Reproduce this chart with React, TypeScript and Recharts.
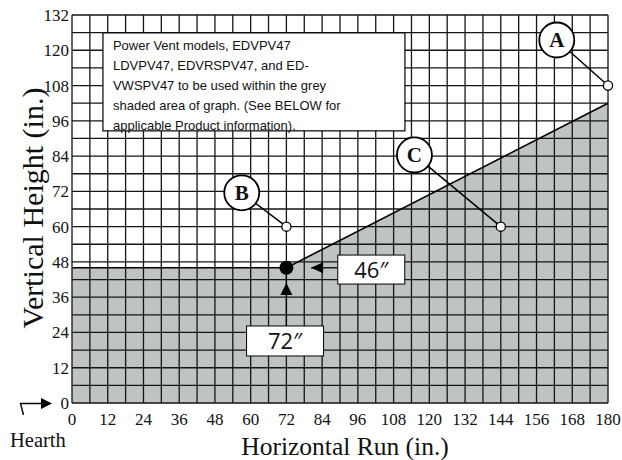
import React from "react";
import {
  ComposedChart,
  Area,
  Scatter,
  XAxis,
  YAxis,
  ReferenceLine,
  ReferenceDot,
  Label,
} from "recharts";

// axis ticks (labelled) and grid lines (every 6 in.)
const xTicks = [0, 12, 24, 36, 48, 60, 72, 84, 96, 108, 120, 132, 144, 156, 168, 180];
const yTicks = [0, 12, 24, 36, 48, 60, 72, 84, 96, 108, 120, 132];
const gridX = [
  0, 6, 12, 18, 24, 30, 36, 42, 48, 54, 60, 66, 72, 78, 84, 90, 96, 102, 108, 114, 120,
  126, 132, 138, 144, 150, 156, 162, 168, 174, 180,
];
const gridY = [
  0, 6, 12, 18, 24, 30, 36, 42, 48, 54, 60, 66, 72, 78, 84, 90, 96, 102, 108, 114, 120,
  126, 132,
];

// edge of the grey (allowed) area
const shadedEdge = [
  { run: 0, height: 46 },
  { run: 72, height: 46 },
  { run: 180, height: 102 },
];

// lettered example points
const pointNames = ["A", "B", "C"];
const pointRun = [180, 72, 144];
const pointHeight = [108, 60, 60];
const calloutRun = [162.8, 57, 115];
const calloutHeight = [123.5, 71.5, 84.4];

// minimum run / height corner
const minRun = 72;
const minHeight = 46;

const noteLines = [
  "Power Vent models, EDVPV47",
  "LDVPV47, EDVRSPV47, and ED-",
  "VWSPV47 to be used within the grey",
  "shaded area of graph. (See BELOW for",
  "applicable Product information).",
];

const serif = "'Liberation Serif', 'Times New Roman', serif";
const sans = "'Liberation Sans', Arial, sans-serif";
const labelFont = "'Open Sans', 'Noto Sans', sans-serif";

const openPoints = pointNames.map((name, i) => ({
  name,
  run: pointRun[i],
  height: pointHeight[i],
}));
const cornerPoint = [{ run: minRun, height: minHeight }];

// white box centred on a reference dot
const valueBox = (w: number, h: number, text: string) => (p: any) => (
  <g>
    <rect x={p.cx - w / 2} y={p.cy - h / 2} width={w} height={h} fill="#fff" stroke="#000" strokeWidth={1} />
    <text x={p.cx} y={p.cy + 8} textAnchor="middle" fontSize={22} fontFamily={labelFont} fill="#111">
      {text}
    </text>
  </g>
);

const noteBox = (w: number, h: number) => (p: any) => {
  const x0 = p.cx - w / 2;
  const y0 = p.cy - h / 2;
  return (
    <g>
      <rect x={x0} y={y0} width={w} height={h} fill="#fff" stroke="#000" strokeWidth={1.2} />
      <text x={x0 + 10} y={y0 + 17} fontSize={13} fontFamily={sans} fill="#111">
        {noteLines.map((line, i) => (
          <tspan key={i} x={x0 + 10} dy={i === 0 ? 0 : 20}>
            {line}
          </tspan>
        ))}
      </text>
    </g>
  );
};

const arrowLeft = (p: any) => (
  <path d={`M${p.cx},${p.cy} L${p.cx + 12},${p.cy - 5.5} L${p.cx + 12},${p.cy + 5.5} Z`} fill="#000" />
);
const arrowUp = (p: any) => (
  <path d={`M${p.cx},${p.cy} L${p.cx - 6},${p.cy + 12} L${p.cx + 6},${p.cy + 12} Z`} fill="#000" />
);

export default function App() {
  return (
    <div style={{ position: "absolute", left: 0, top: 0, width: 622, height: 460 }}>
      <ComposedChart
        width={622}
        height={460}
        data={shadedEdge}
        margin={{ top: 15, right: 14, bottom: 0, left: 0 }}
      >
        <XAxis
          type="number"
          dataKey="run"
          domain={[0, 180]}
          ticks={xTicks}
          interval={0}
          height={57}
          axisLine={false}
          tickLine={false}
          tickSize={0}
          tickMargin={10}
          tick={{ fill: "#111", fontSize: 17, fontFamily: serif }}
        >
          <Label
            content={({ viewBox }: any) => (
              <text
                x={viewBox.x + viewBox.width / 2 + 5}
                y={455}
                textAnchor="middle"
                fontSize={25.5}
                fontFamily={serif}
                fill="#111"
              >
                Horizontal Run (in.)
              </text>
            )}
          />
        </XAxis>
        <YAxis
          type="number"
          dataKey="height"
          domain={[0, 132]}
          ticks={yTicks}
          interval={0}
          width={72}
          axisLine={false}
          tickLine={false}
          tickSize={0}
          tickMargin={3}
          tick={{ fill: "#111", fontSize: 17, fontFamily: serif }}
        >
          <Label
            content={({ viewBox }: any) => {
              const cy = viewBox.y + viewBox.height / 2 - 1;
              return (
                <text
                  x={43}
                  y={cy}
                  transform={`rotate(-90 43 ${cy})`}
                  textAnchor="middle"
                  fontSize={30}
                  fontFamily={serif}
                  fill="#111"
                >
                  Vertical Height (in.)
                </text>
              );
            }}
          />
        </YAxis>

        <Area
          type="linear"
          dataKey="height"
          baseValue={0}
          fill="#bec3c3"
          fillOpacity={1}
          stroke="none"
          isAnimationActive={false}
        />

        {gridX.map((v) => (
          <ReferenceLine key={`gx${v}`} x={v} stroke="#151515" strokeWidth={1.3} />
        ))}
        {gridY.map((v) => (
          <ReferenceLine key={`gy${v}`} y={v} stroke="#151515" strokeWidth={1.3} />
        ))}

        {/* boundary of grey area */}
        <ReferenceLine
          segment={[
            { x: shadedEdge[0].run, y: shadedEdge[0].height },
            { x: shadedEdge[1].run, y: shadedEdge[1].height },
          ]}
          stroke="#000"
          strokeWidth={1.6}
        />
        <ReferenceLine
          segment={[
            { x: shadedEdge[1].run, y: shadedEdge[1].height },
            { x: shadedEdge[2].run, y: shadedEdge[2].height },
          ]}
          stroke="#000"
          strokeWidth={1.6}
        />

        {/* callout connectors */}
        {pointNames.map((name, i) => (
          <ReferenceLine
            key={`c${name}`}
            segment={[
              { x: calloutRun[i], y: calloutHeight[i] },
              { x: pointRun[i], y: pointHeight[i] },
            ]}
            stroke="#000"
            strokeWidth={1.5}
          />
        ))}

        {/* arrow shafts */}
        <ReferenceLine
          segment={[
            { x: 80.3, y: minHeight },
            { x: 89.2, y: minHeight },
          ]}
          stroke="#000"
          strokeWidth={1.3}
        />
        <ReferenceLine
          segment={[
            { x: minRun, y: 26.2 },
            { x: minRun, y: minHeight },
          ]}
          stroke="#000"
          strokeWidth={1.3}
        />

        {/* note box */}
        <ReferenceDot x={61.1} y={109.25} r={1} shape={noteBox(302, 98)} />

        {pointNames.map((name, i) => (
          <ReferenceDot
            key={`d${name}`}
            x={calloutRun[i]}
            y={calloutHeight[i]}
            r={17.5}
            fill="#fff"
            stroke="#000"
            strokeWidth={1.8}
          >
            <Label
              value={name}
              position="center"
              fontSize={21}
              fontWeight="bold"
              fontFamily={serif}
              fill="#111"
            />
          </ReferenceDot>
        ))}

        <ReferenceDot x={80.3} y={minHeight} r={1} shape={arrowLeft} />
        <ReferenceDot x={100.5} y={45.4} r={1} shape={valueBox(67, 29, `${minHeight}″`)} />
        <ReferenceDot x={minRun} y={40.8} r={1} shape={arrowUp} />
        <ReferenceDot x={71.55} y={21.1} r={1} shape={valueBox(77, 30, `${minRun}″`)} />

        <Scatter
          data={openPoints}
          dataKey="height"
          isAnimationActive={false}
          shape={(p: any) => (
            <circle cx={p.cx} cy={p.cy} r={4.6} fill="#fff" stroke="#000" strokeWidth={1.3} />
          )}
        />
        <Scatter
          data={cornerPoint}
          dataKey="height"
          isAnimationActive={false}
          shape={(p: any) => <circle cx={p.cx} cy={p.cy} r={7} fill="#000" />}
        />
      </ComposedChart>
      <svg
        width={622}
        height={460}
        style={{ position: "absolute", left: 0, top: 0, pointerEvents: "none" }}
      >
        <path d="M23.5,415 L20.5,403.5 L43,403.5" fill="none" stroke="#000" strokeWidth={1.4} />
        <path d="M52,403.5 L41,398 L41,409 Z" fill="#000" />
        <text x={10} y={447} fontSize={20.5} fontFamily={serif} fill="#111">
          Hearth
        </text>
      </svg>
    </div>
  );
}
